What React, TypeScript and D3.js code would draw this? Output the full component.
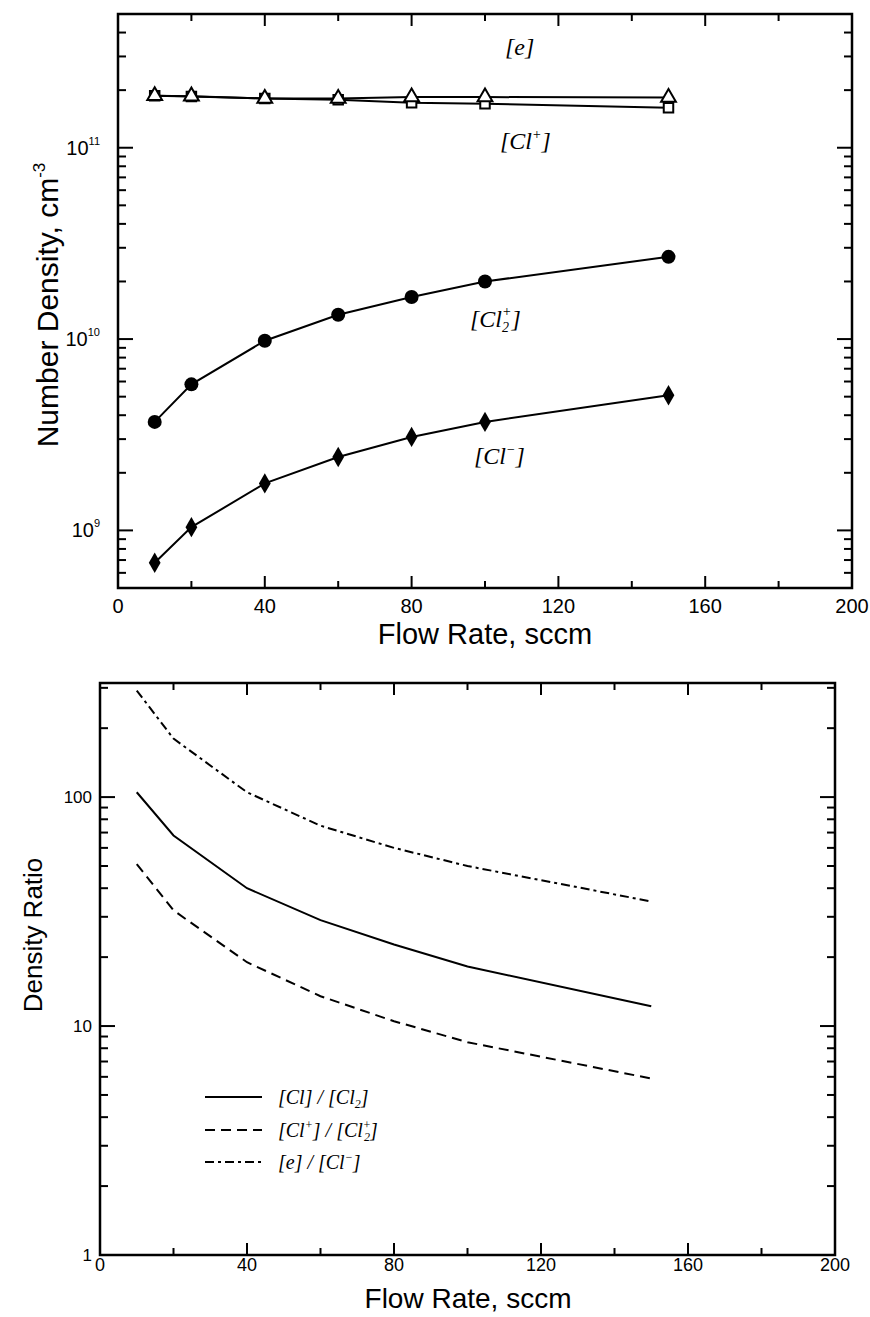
import React from "react";
import * as d3 from "d3";

const flow = [10, 20, 40, 60, 80, 100, 150];
const electron = [1.87e11, 1.86e11, 1.81e11, 1.81e11, 1.84e11, 1.84e11, 1.83e11];
const clPlus = [1.87e11, 1.85e11, 1.81e11, 1.78e11, 1.72e11, 1.7e11, 1.62e11];
const cl2Plus = [3.69e9, 5.8e9, 9.8e9, 1.34e10, 1.66e10, 2.0e10, 2.69e10];
const clMinus = [6.78e8, 1.04e9, 1.76e9, 2.42e9, 3.08e9, 3.69e9, 5.09e9];

const ratioClCl2 = [105, 68, 40, 29, 22.7, 18.2, 12.2];
const ratioIons = [51, 32, 19, 13.5, 10.5, 8.5, 5.9];
const ratioECl = [292, 180, 105, 75, 60, 50, 35];

const xTickLabels = [0, 40, 80, 120, 160, 200];
const xMinorTicks = [20, 60, 100, 140, 180];
const topYMajor = [1e9, 1e10, 1e11];
const topYExp = ["9", "10", "11"];
const bottomYMajor = [1, 10, 100];
const bottomYLabels = ["1", "10", "100"];

const SANS = "'Liberation Sans', Arial, sans-serif";
const NARROW = "'Liberation Sans Narrow', 'Liberation Sans', Arial, sans-serif";
const SERIF = "'Liberation Serif', 'Times New Roman', serif";

function logMinors(domain: [number, number]) {
  const out: number[] = [];
  for (let e = Math.floor(Math.log10(domain[0])) - 1; e <= Math.ceil(Math.log10(domain[1])); e++) {
    for (let k = 1; k <= 9; k++) {
      const v = k * Math.pow(10, e);
      if (v >= domain[0] && v <= domain[1]) out.push(v);
    }
  }
  return out;
}

function Frame({ x, y, yDomain }: any) {
  const [x0, x1] = x.range();
  const [y0, y1] = y.range();
  const vals = logMinors(yDomain);
  const els: any[] = [];
  vals.forEach((v, i) => {
    const major = Math.abs(Math.log10(v) - Math.round(Math.log10(v))) < 1e-9;
    const L = major ? 15 : 8;
    const yy = y(v);
    els.push(<line key={"l" + i} x1={x0} x2={x0 + L} y1={yy} y2={yy} />);
    els.push(<line key={"r" + i} x1={x1} x2={x1 - L} y1={yy} y2={yy} />);
  });
  [...xTickLabels.slice(1, -1), ...xMinorTicks].forEach((v, i) => {
    const major = xTickLabels.includes(v);
    const L = major ? 12 : 7;
    const xx = x(v);
    els.push(<line key={"b" + i} x1={xx} x2={xx} y1={y0} y2={y0 - L} />);
    els.push(<line key={"t" + i} x1={xx} x2={xx} y1={y1} y2={y1 + L} />);
  });
  return (
    <g stroke="#000" strokeWidth={2}>
      <rect x={x0} y={y1} width={x1 - x0} height={y0 - y1} fill="none" strokeWidth={2.5} />
      {els}
    </g>
  );
}

export default function App() {
  // Top plot
  const topYDomain: [number, number] = [5e8, 5e11];
  const x1 = d3.scaleLinear().domain([0, 200]).range([118, 852]);
  const y1 = d3.scaleLog().domain(topYDomain).range([588, 14]);
  const line1 = (vals: number[]) =>
    d3.line<number>().x((_, i) => x1(flow[i])).y((v) => y1(v))(vals) || "";

  // Bottom plot
  const botYDomain: [number, number] = [1, 315];
  const x2 = d3.scaleLinear().domain([0, 200]).range([100, 835]);
  const y2 = d3.scaleLog().domain(botYDomain).range([1255, 683]);
  const line2 = (vals: number[]) =>
    d3.line<number>().x((_, i) => x2(flow[i])).y((v) => y2(v))(vals) || "";

  const tri = d3.symbol().type(d3.symbolTriangle).size(95)() || "";
  const sq = d3.symbol().type(d3.symbolSquare).size(90)() || "";
  const diam = d3.symbol().type(d3.symbolDiamond).size(120)() || "";

  const legendRows = [
    { dash: "none", y: 1097 },
    { dash: "10,6", y: 1130 },
    { dash: "9,4,3,4", y: 1162 },
  ];

  return (
    <svg width={870} height={1317} style={{ position: "absolute", left: 0, top: 0, background: "#fff" }}>
      <rect x={0} y={0} width={870} height={1317} fill="#fff" />
      {/* ---------- TOP PLOT ---------- */}
      <Frame x={x1} y={y1} yDomain={topYDomain} />
      {xTickLabels.map((v) => (
        <text key={"tx" + v} x={x1(v)} y={613} textAnchor="middle" fontFamily={NARROW} fontSize={20}>
          {v}
        </text>
      ))}
      {topYMajor.map((v, i) => (
        <text key={"ty" + v} x={100} y={y1(v) + 7} textAnchor="end" fontFamily={SANS} fontSize={20}>
          10
          <tspan fontSize={11} dy={-10}>{topYExp[i]}</tspan>
        </text>
      ))}
      <text x={485} y={644} textAnchor="middle" fontFamily={SANS} fontSize={29}>
        Flow Rate, sccm
      </text>
      <text transform={`translate(58,305) rotate(-90)`} textAnchor="middle" fontFamily={SANS} fontSize={30}>
        Number Density, cm
        <tspan fontSize={17} dy={-13}>-3</tspan>
      </text>

      <g fill="none" stroke="#000" strokeWidth={2}>
        <path d={line1(electron)} />
        <path d={line1(clPlus)} />
        <path d={line1(cl2Plus)} />
        <path d={line1(clMinus)} />
      </g>
      {flow.map((f, i) => (
        <path key={"sq" + i} d={sq} transform={`translate(${x1(f)},${y1(clPlus[i])})`} fill="#fff" stroke="#000" strokeWidth={2} />
      ))}
      {flow.map((f, i) => (
        <path key={"tr" + i} d={tri} transform={`translate(${x1(f)},${y1(electron[i])})`} fill="#fff" stroke="#000" strokeWidth={2} />
      ))}
      {flow.map((f, i) => (
        <circle key={"c" + i} cx={x1(f)} cy={y1(cl2Plus[i])} r={7} fill="#000" />
      ))}
      {flow.map((f, i) => (
        <path key={"d" + i} d={diam} transform={`translate(${x1(f)},${y1(clMinus[i])})`} fill="#000" />
      ))}
      <g fontFamily={SERIF} fontStyle="italic" fontSize={24}>
        <text x={505} y={55}>[e]</text>
        <text x={500} y={149}>
          [Cl<tspan fontSize={14} dy={-10}>+</tspan><tspan dy={10}>]</tspan>
        </text>
        <text x={470} y={327}>
          [Cl<tspan fontSize={14} dy={5}>2</tspan><tspan fontSize={14} dx={-7} dy={-16}>+</tspan><tspan dy={11}>]</tspan>
        </text>
        <text x={474} y={464}>
          [Cl<tspan fontSize={14} dy={-10}>−</tspan><tspan dy={10}>]</tspan>
        </text>
      </g>

      {/* ---------- BOTTOM PLOT ---------- */}
      <Frame x={x2} y={y2} yDomain={botYDomain} />
      {xTickLabels.map((v) => (
        <text key={"bx" + v} x={x2(v)} y={1271} textAnchor="middle" fontFamily={NARROW} fontSize={18}>
          {v}
        </text>
      ))}
      {bottomYMajor.map((v, i) => (
        <text key={"by" + v} x={92} y={y2(v) + 6} textAnchor="end" fontFamily={SANS} fontSize={17}>
          {bottomYLabels[i]}
        </text>
      ))}
      <text x={468} y={1308} textAnchor="middle" fontFamily={SANS} fontSize={28}>
        Flow Rate, sccm
      </text>
      <text transform={`translate(42,935) rotate(-90)`} textAnchor="middle" fontFamily={SANS} fontSize={26}>
        Density Ratio
      </text>
      <g fill="none" stroke="#000" strokeWidth={2}>
        <path d={line2(ratioClCl2)} />
        <path d={line2(ratioIons)} strokeDasharray="10,6" />
        <path d={line2(ratioECl)} strokeDasharray="9,4,3,4" />
      </g>
      {legendRows.map((r, i) => (
        <line key={"lg" + i} x1={205} x2={262} y1={r.y} y2={r.y} stroke="#000" strokeWidth={2} strokeDasharray={r.dash} />
      ))}
      <g fontFamily={SERIF} fontStyle="italic" fontSize={20}>
        <text x={278} y={1104}>
          [Cl] / [Cl<tspan fontSize={12} dy={4}>2</tspan><tspan dy={-4}>]</tspan>
        </text>
        <text x={278} y={1137}>
          [Cl<tspan fontSize={12} dy={-8}>+</tspan><tspan dy={8}>] / [Cl</tspan><tspan fontSize={12} dy={-8}>+</tspan><tspan fontSize={12} dx={-7} dy={12}>2</tspan><tspan dy={-4}>]</tspan>
        </text>
        <text x={278} y={1169}>
          [e] / [Cl<tspan fontSize={12} dy={-8}>−</tspan><tspan dy={8}>]</tspan>
        </text>
      </g>
    </svg>
  );
}
